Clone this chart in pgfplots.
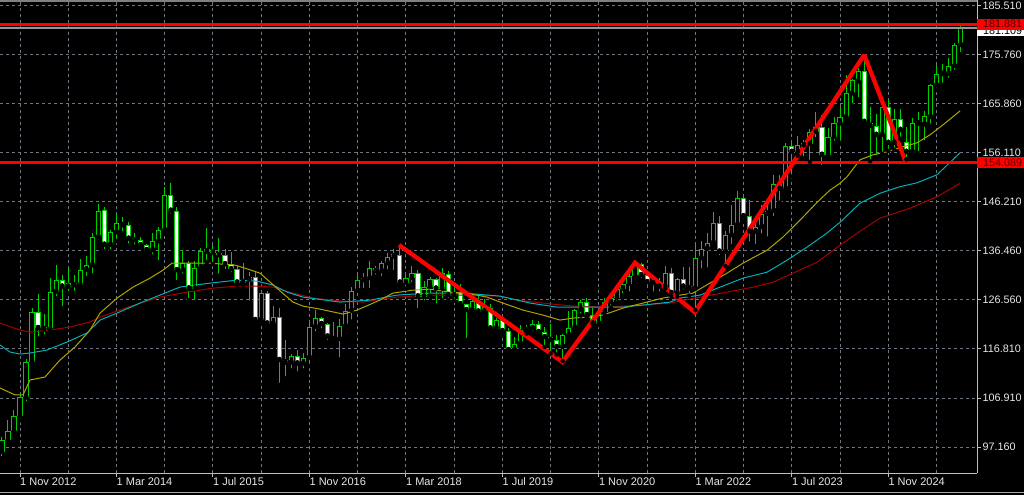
\documentclass[border=0pt]{standalone}
\usepackage{pgfplots}
\pgfplotsset{compat=1.18}
\usepackage{pgfplotstable}
\usetikzlibrary{backgrounds}
\usepackage{fontspec}
\setmainfont{Liberation Sans}

\definecolor{cgreen}{RGB}{0,205,0}
\definecolor{gridc}{RGB}{110,118,130}
\definecolor{txt}{RGB}{232,232,232}
\definecolor{framec}{RGB}{190,190,190}
\definecolor{maY}{RGB}{175,165,0}
\definecolor{maC}{RGB}{0,175,185}
\definecolor{maR}{RGB}{165,0,0}
\definecolor{bidc}{RGB}{150,150,150}
\definecolor{lbltxt}{RGB}{80,0,0}

\pgfplotstableread{
m O H L C
-3 96.2 99.2 94.9 98.5
-2 98.5 102.5 97.9 100.3
-1 100.3 104.6 99.6 103.4
0 103.4 107.9 102.5 107.1
1 107.1 114.9 105.9 114.3
2 114.3 125.1 113.6 124.2
3 124.2 127.8 118.9 121.0
4 121.0 123.9 119.3 120.7
5 120.7 131.1 120.1 128.3
6 128.3 133.7 127.0 130.6
7 130.6 131.6 125.0 129.3
8 129.3 133.0 128.0 130.1
9 130.1 131.6 128.0 129.6
10 129.6 134.8 128.9 132.7
11 132.7 135.4 131.0 133.6
12 133.6 140.0 131.5 139.2
13 139.2 145.9 138.3 144.5
14 144.6 145.2 136.4 137.7
15 137.7 140.6 136.3 140.2
16 140.2 143.9 138.4 142.1
17 142.1 143.2 140.0 141.6
18 141.6 142.3 137.5 138.9
19 138.9 140.0 137.3 138.6
20 138.6 139.3 137.1 137.6
21 137.6 137.9 135.9 136.6
22 136.6 140.0 135.3 138.4
23 138.4 141.3 134.2 140.6
24 140.6 149.3 140.3 147.6
25 147.6 150.0 143.5 144.5
26 144.5 145.2 130.2 132.6
27 132.6 136.6 131.5 134.0
28 134.0 134.5 126.6 128.9
29 128.9 134.5 126.2 133.0
30 133.2 137.0 132.6 136.5
31 136.3 141.1 134.2 136.7
32 136.6 137.6 133.8 136.1
33 136.1 139.0 131.5 135.6
34 135.6 136.9 132.4 133.8
35 133.8 136.2 131.8 132.8
36 132.8 133.4 129.7 130.1
37 130.1 134.1 129.7 130.7
38 130.7 132.3 126.1 131.3
39 131.3 132.3 122.1 122.6
40 122.6 128.2 122.0 128.1
41 128.1 128.4 121.2 121.9
42 121.9 125.4 121.4 123.3
43 123.3 125.0 109.6 114.6
44 114.6 118.6 110.9 114.1
45 114.1 115.9 112.5 115.4
46 115.4 116.6 111.9 113.9
47 113.9 116.1 112.5 115.1
48 115.1 122.0 113.4 121.3
49 121.3 124.6 119.9 123.1
50 123.1 123.2 120.5 121.8
51 121.8 122.1 118.2 119.3
52 119.3 122.3 118.3 118.8
53 118.8 122.9 114.7 121.4
54 121.4 125.8 121.0 124.5
55 124.5 129.3 122.3 128.5
56 128.5 132.1 127.0 130.6
57 130.6 132.0 128.6 131.0
58 131.0 134.5 128.6 133.0
59 133.0 133.5 131.3 132.4
60 132.4 134.5 131.0 134.0
61 134.0 136.0 132.3 135.3
62 135.3 136.8 132.2 135.6
63 135.6 137.7 129.5 130.1
64 130.1 132.0 128.9 131.0
65 131.0 133.5 129.8 132.1
66 132.1 132.6 124.6 127.3
67 127.3 130.4 126.1 129.3
68 129.3 131.3 127.5 130.8
69 130.8 131.1 125.5 128.9
70 128.9 133.1 126.6 132.0
71 131.9 132.5 126.6 127.6
72 127.6 129.3 126.5 128.3
73 128.3 129.9 125.3 125.8
74 125.8 125.9 118.6 124.6
75 124.6 127.5 124.2 126.4
76 126.4 127.5 123.5 124.3
77 124.3 126.8 123.5 125.4
78 125.0 125.9 120.3 120.9
79 120.9 123.0 120.2 122.6
80 122.6 123.2 119.9 120.4
81 120.4 121.0 115.9 116.6
82 116.6 119.3 115.9 117.9
83 117.9 121.6 117.1 120.6
84 120.6 121.6 119.9 121.0
85 121.0 122.6 120.1 121.9
86 121.9 122.4 119.7 120.2
87 120.2 121.2 117.2 119.2
88 119.2 121.9 115.9 118.6
89 118.6 119.7 115.7 117.2
90 117.3 119.9 114.4 119.6
91 119.6 124.4 119.3 121.1
92 121.1 124.9 120.3 124.7
93 124.7 126.6 123.5 126.2
94 126.2 127.1 123.1 123.6
95 123.6 125.1 121.7 121.9
96 121.9 124.9 121.6 124.3
97 124.3 127.0 123.5 126.2
98 126.2 127.5 125.1 127.1
99 127.1 129.1 126.1 128.9
100 128.9 130.7 127.6 129.9
101 129.9 132.0 127.9 131.4
102 131.4 134.1 131.2 133.9
103 133.9 134.1 130.6 131.6
104 131.6 132.1 128.6 130.2
105 130.2 130.6 127.9 130.0
106 130.0 131.1 127.9 129.3
107 129.3 133.5 128.9 132.1
108 132.1 133.0 127.5 128.0
109 128.0 131.0 127.3 130.9
110 130.9 133.2 128.3 129.3
111 129.3 133.2 127.5 128.9
112 128.9 137.6 124.6 135.0
113 135.0 138.5 132.5 136.9
114 136.9 140.0 132.7 138.1
115 138.1 144.3 137.6 142.1
116 142.1 143.5 135.2 136.3
117 136.3 140.4 133.4 139.6
118 139.6 145.6 137.4 141.7
119 141.7 148.4 140.8 147.1
120 147.1 147.6 142.5 143.4
121 143.4 146.7 137.9 140.3
122 140.3 142.9 137.4 141.3
123 141.3 145.6 139.5 143.9
124 143.9 146.0 138.9 144.5
125 144.5 151.7 143.0 149.9
126 150.1 151.6 146.1 148.9
127 148.9 158.0 148.4 157.5
128 157.5 158.1 151.4 156.3
129 156.3 159.5 155.5 157.6
130 157.6 158.7 155.0 157.9
131 157.9 160.8 154.3 160.3
132 160.3 164.3 158.8 161.3
133 161.3 163.7 153.2 155.7
134 155.7 161.0 155.0 159.3
135 159.3 163.2 158.1 162.0
136 162.0 165.3 158.1 163.2
137 163.2 171.6 162.6 168.0
138 168.0 170.9 165.6 170.6
139 170.4 173.0 166.8 172.4
140 172.4 175.4 162.0 162.3
141 162.1 165.2 154.4 161.5
142 161.5 163.9 155.2 159.7
143 159.7 166.7 155.9 165.3
144 165.3 166.7 156.5 158.1
145 158.1 164.9 156.7 162.8
146 162.8 164.9 158.9 160.7
147 158.3 161.2 154.8 156.3
148 156.3 163.1 155.9 162.0
149 162.0 164.2 156.0 162.2
150 161.8 164.4 158.2 163.5
151 163.3 169.9 161.5 169.7
152 169.6 173.7 168.7 171.9
153 171.9 173.9 169.7 172.1
154 172.0 175.0 170.7 173.5
155 173.5 178.1 172.3 177.7
156 177.7 181.9 175.9 181.1
}\candles

\begin{document}
\begin{tikzpicture}[x=1pt,y=1pt]
\begin{axis}[
  scale only axis, width=977pt, height=473pt,
  xmin=-3.317, xmax=158.71, ymin=91.970, ymax=186.712,
  axis x line*=bottom, axis y line*=right,
  axis line style={draw=framec, line width=1pt},
  xtick={0,16,...,144},
  xticklabels={1 Nov 2012,1 Mar 2014,1 Jul 2015,1 Nov 2016,1 Mar 2018,1 Jul 2019,1 Nov 2020,1 Mar 2022,1 Jul 2023,1 Nov 2024},
  extra x ticks={8,24,...,152},
  extra x tick labels={},
  extra x tick style={major tick length=0pt},
  ytick={185.51,175.6953,165.8806,156.0659,146.2512,136.4365,126.6218,116.8071,106.9924,97.1777},
  yticklabels={185.510,175.760,165.860,156.110,146.210,136.460,126.560,116.810,106.910,97.160},
  grid=major,
  major grid style={draw=gridc, dash pattern=on 3pt off 3pt, line width=1pt},
  tick align=outside, major tick length=4pt,
  tick style={draw=framec, line width=1pt},
  xticklabel style={anchor=west, inner sep=0pt, text=txt, font=\fontsize{11}{13}\selectfont, yshift=-5pt},
  yticklabel style={anchor=west, inner sep=0pt, xshift=1.5pt, text=txt, font=\fontsize{10.8}{13}\selectfont},
  clip=true,
]
% wicks
\addplot[only marks, mark=none, forget plot,
  error bars/.cd, y dir=plus, y explicit, error mark=none,
  error bar style={draw=cgreen, line width=1pt}]
  table[x=m, y=L, y error expr=\thisrow{H}-\thisrow{L}] {\candles};
% body outline
\addplot[only marks, mark=none, forget plot,
  error bars/.cd, y dir=plus, y explicit, error mark=none,
  error bar style={draw=cgreen, line width=5.2pt, line cap=butt}]
  table[x=m, y expr={min(\thisrow{O},\thisrow{C})}, y error expr={max(abs(\thisrow{C}-\thisrow{O}),0.45)}] {\candles};
% up bodies (black)
\addplot[only marks, mark=none, forget plot,
  error bars/.cd, y dir=plus, y explicit, error mark=none,
  error bar style={draw=black, line width=3.2pt, line cap=butt}]
  table[x=m, y expr={min(\thisrow{O},\thisrow{C})+0.2}, y error expr={(\thisrow{C}>\thisrow{O})*max(abs(\thisrow{C}-\thisrow{O})-0.4,0)}] {\candles};
% down bodies (white)
\addplot[only marks, mark=none, forget plot,
  error bars/.cd, y dir=plus, y explicit, error mark=none,
  error bar style={draw=white, line width=3.2pt, line cap=butt}]
  table[x=m, y expr={min(\thisrow{O},\thisrow{C})+0.2}, y error expr={(\thisrow{O}>\thisrow{C})*max(abs(\thisrow{C}-\thisrow{O})-0.4,0)}] {\candles};

% moving averages
\addplot[maR, line width=1pt] coordinates {
(-3.32,122.0) (0,120.6) (1.66,120.2) (4.98,120.6) (8.29,121.2) (11.6,122.2) (13.27,123.2) (16.58,124.6) (19.9,126.0) (23.2,127.2) (27.7,128.2) (32.0,129.0) (36.0,129.4) (39.3,129.4) (41.96,129.2) (45.27,128.0) (48.6,127.0) (53.07,126.4) (56.9,126.2) (62.5,127.2) (68.0,127.6) (73.5,127.6) (79.6,127.4) (82.4,126.6) (86.7,126.0) (91.7,125.4) (97.3,125.2) (102.8,125.6) (107.8,126.0) (112.8,127.2) (117.25,128.2) (121.6,129.2) (124.9,130.2) (128.2,132.0) (132.2,134.2) (136.0,137.6) (139.3,140.4) (142.6,143.0) (147.6,145.0) (152.07,147.3) (155.9,150.0)};
\addplot[maC, line width=1pt] coordinates {
(-3.32,117.6) (-1.66,116.2) (0,115.8) (1.66,116.0) (4.48,116.6) (7.79,118.2) (11.1,120.0) (13.27,122.6) (16.09,124.0) (19.9,126.0) (23.2,127.6) (26.5,129.2) (31.5,130.0) (36.0,130.6) (39.3,130.4) (41.96,129.6) (44.3,128.2) (46.93,127.2) (53.07,126.2) (58.04,126.6) (62.5,127.6) (68.0,128.0) (73.5,128.0) (79.6,127.4) (84.6,126.0) (89.05,125.2) (96.2,125.2) (100.0,125.2) (103.3,125.6) (107.8,126.2) (109.45,127.0) (112.8,127.6) (116.1,129.2) (119.9,131.0) (123.9,132.2) (127.2,134.6) (130.5,137.2) (133.8,140.0) (136.0,142.2) (139.3,146.0) (142.6,148.0) (145.9,149.3) (148.76,150.1) (152.07,151.7) (155.9,156.1)};
\addplot[maY, line width=1pt] coordinates {
(-3.32,109.0) (-0.83,107.6) (0.5,107.6) (1.66,110.6) (4.15,111.2) (6.63,114.6) (9.12,117.2) (11.61,120.6) (13.27,124.0) (16.09,127.0) (18.74,129.2) (21.56,131.0) (23.71,132.6) (25.21,134.0) (27.36,134.0) (31.5,134.0) (35.66,133.6) (37.3,133.0) (39.8,132.0) (42.6,129.0) (45.27,126.2) (46.93,125.4) (49.75,124.8) (53.57,123.8) (55.89,124.6) (59.7,126.6) (61.86,128.0) (65.17,128.6) (68.0,128.8) (71.3,128.2) (74.1,128.0) (77.45,127.2) (80.1,126.0) (83.42,124.6) (86.73,123.6) (89.55,122.6) (91.7,123.0) (94.5,123.2) (96.7,123.6) (100.0,125.0) (103.3,126.0) (106.6,127.0) (109.45,127.6) (111.6,128.0) (114.4,130.0) (117.25,132.0) (119.9,134.0) (123.9,136.6) (126.5,139.2) (129.35,142.6) (132.2,146.2) (134.3,148.6) (135.99,150.0) (137.15,151.3) (139.3,154.7) (141.46,155.7) (143.8,156.3) (146.4,157.3) (148.76,158.1) (150.9,159.7) (153.07,161.7) (155.9,164.5)};

% bid line
\addplot[bidc, line width=1.3pt] coordinates {(-4,181.1) (160,181.1)};
% horizontal levels
\addplot[red, line width=3pt] coordinates {(-4,181.881) (160,181.881)};
\addplot[red, line width=3pt] coordinates {(-4,154.089) (160,154.089)};
% zigzag
\addplot[red, line width=4.3pt, miter limit=2] coordinates {(62.85,137.64) (89.97,114.2) (102.0,134.09) (111.9,124.16) (140.0,175.7) (146.9,154.3)};

\coordinate (BL) at (rel axis cs:0,0);
\coordinate (TR) at (rel axis cs:1,1);
\coordinate (L1) at (axis cs:158.71,181.881);
\coordinate (L2) at (axis cs:158.71,154.089);
\end{axis}
\pgfresetboundingbox
\path[use as bounding box] ([yshift=-22pt]BL) rectangle ([xshift=47pt]TR);
\begin{pgfonlayer}{background}
\fill[black] ([yshift=-22pt]BL) rectangle ([xshift=47pt]TR);
\end{pgfonlayer}
\draw[color={rgb,255:red,128;green,128;blue,128}, line width=1.5pt] ([yshift=-0.8pt]TR -| BL) -- ([yshift=-0.8pt]TR);
\draw[color={rgb,255:red,170;green,170;blue,170}, line width=1pt] ([yshift=-19.7pt]BL) -- ([yshift=-19.7pt,xshift=1024pt]BL);
\node[fill=white, text=black, anchor=west, inner xsep=6pt, inner ysep=0pt, minimum height=11pt, font=\fontsize{10.8}{13}\selectfont] at ([yshift=-6.5pt]L1) {181.109};
\node[fill=red, text=lbltxt, anchor=west, inner xsep=6pt, inner ysep=0pt, minimum height=11pt, font=\fontsize{10.8}{13}\selectfont] at (L1) {181.881};
\node[fill=red, text=lbltxt, anchor=west, inner xsep=6pt, inner ysep=0pt, minimum height=11pt, font=\fontsize{10.8}{13}\selectfont] at (L2) {154.089};
\end{tikzpicture}
\end{document}
